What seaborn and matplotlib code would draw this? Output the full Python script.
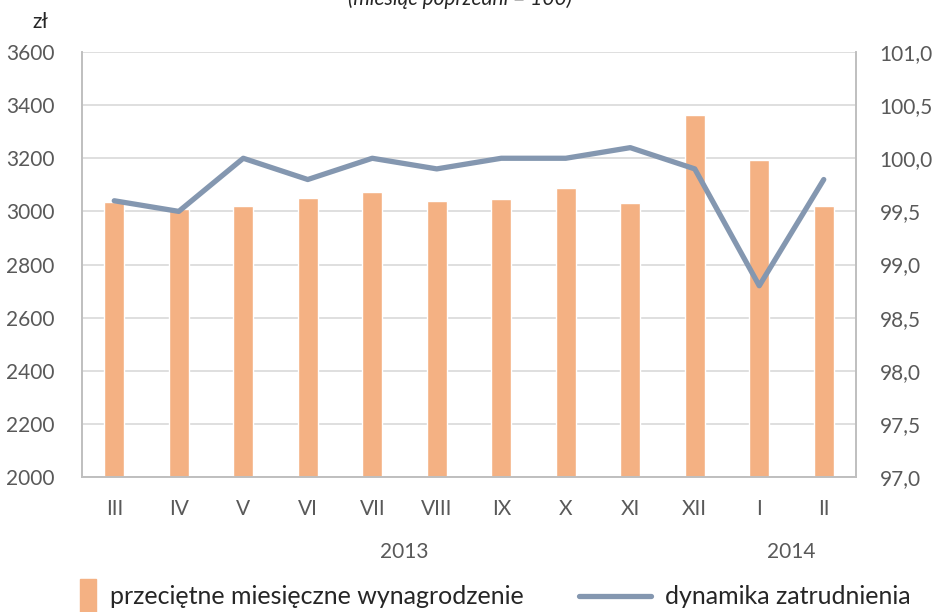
import numpy as np
import pandas as pd
import seaborn as sns
import matplotlib.pyplot as plt
from matplotlib.patches import Rectangle
from matplotlib.legend_handler import HandlerPatch

# Data
months = ['III', 'IV', 'V', 'VI', 'VII', 'VIII', 'IX', 'X', 'XI', 'XII', 'I', 'II']
wages = [3036, 3008, 3021, 3050, 3073, 3040, 3048, 3089, 3033, 3363, 3193, 3021]
employment = [99.6, 99.5, 100.0, 99.8, 100.0, 99.9, 100.0, 100.0, 100.1, 99.9, 98.8, 99.8]
years = ['2013', '2014']
year_months = [months[:10], months[10:]]

bar_color = '#f4b183'
line_color = '#8497b0'
grey_text = '#595959'

sns.set_theme(style='white')
plt.rcParams['font.family'] = ['Lato', 'DejaVu Sans']

df = pd.DataFrame({'month': months, 'wage': wages, 'emp': employment})
df['pos'] = np.arange(len(months))

fig = plt.figure(figsize=(9.34, 6.12), dpi=100)
ax = fig.add_axes([0.0878, 0.2206, 0.8287, 0.6944])

sns.barplot(data=df, x='month', y='wage', color=bar_color, saturation=1,
            width=0.31, ax=ax)
ax.set_ylim(2000, 3600)
ax.set_yticks(np.arange(2000, 3601, 200))
ax.set_xlim(-0.5, len(months) - 0.5)
ax.yaxis.grid(True, color='#d9d9d9', linewidth=1.2)
ax.set_axisbelow(True)
ax.set_xlabel('')
ax.set_ylabel('')

ax2 = ax.twinx()
sns.lineplot(data=df, x='pos', y='emp', color=line_color, linewidth=3.8,
             ax=ax2, legend=False)
ax2.set_ylim(97.0, 101.0)
ax2.set_yticks(np.arange(97.0, 101.01, 0.5))
ax2.set_yticklabels([f'{v:.1f}'.replace('.', ',') for v in np.arange(97.0, 101.01, 0.5)])
ax2.set_xlim(-0.5, len(months) - 0.5)
ax2.set_ylabel('')
ax2.set_xlabel('')

for a in (ax, ax2):
    for side in ('left', 'right', 'bottom'):
        a.spines[side].set_color('#bfbfbf')
        a.spines[side].set_linewidth(1.2)
    a.spines['top'].set_visible(False)
    a.tick_params(length=0, labelsize=15, labelcolor=grey_text)

ax.tick_params(axis='y', pad=20)
ax.tick_params(axis='x', pad=16)
ax2.tick_params(axis='y', pad=17)

# year labels under the month groups
for yr, ms in zip(years, year_months):
    xs = [months.index(m) for m in ms]
    ax.text(np.mean(xs), -0.176, yr, transform=ax.get_xaxis_transform(),
            ha='center', va='center', fontsize=15, color=grey_text)

fig.text(40 / 934, 1 - 22 / 612, 'zł', ha='center', va='center',
         fontsize=15, color='#262626')
# subtitle, cut by the top edge as in the original
fig.text(460 / 934, 1 + 1 / 612, '(miesiąc poprzedni = 100)', ha='center',
         va='center', fontsize=15, style='italic', color='#262626')


def narrow_bar(legend, orig_handle, xdescent, ydescent, width, height, fontsize):
    return Rectangle((xdescent + width * 0.78, ydescent - height * 0.45),
                     width * 0.22, height * 1.9)


bar_handle = Rectangle((0, 0), 1, 1, color=bar_color)
line_handle = ax2.get_lines()[0]
fig.legend([bar_handle, line_handle],
           ['przeciętne miesięczne wynagrodzenie', 'dynamika zatrudnienia'],
           loc='center', bbox_to_anchor=(0.5, 1 - 597 / 612), ncol=2,
           frameon=False, fontsize=18, handlelength=2.9, handletextpad=0.55,
           columnspacing=2.2, labelcolor='#262626', borderaxespad=0,
           handler_map={Rectangle: HandlerPatch(patch_func=narrow_bar)})

fig.savefig('out.png', dpi=100)
